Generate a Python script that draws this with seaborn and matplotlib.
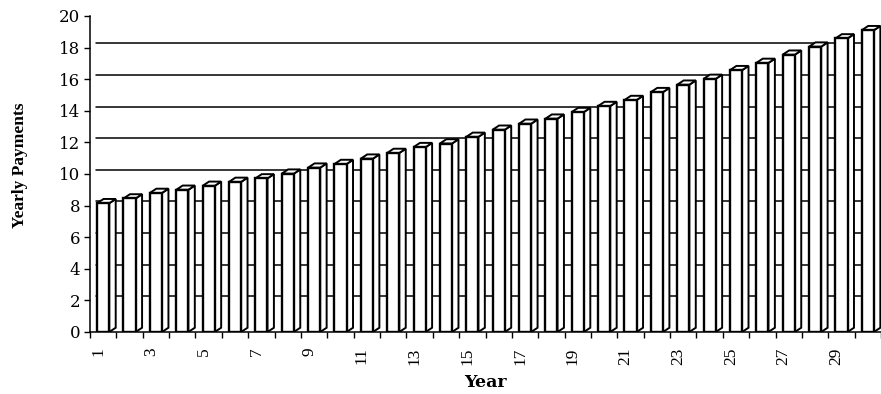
import numpy as np
import pandas as pd
import matplotlib
matplotlib.use("Agg")
import matplotlib.pyplot as plt
import matplotlib.transforms as mtransforms
from matplotlib.patches import Polygon
import seaborn as sns

# ---- data ----
years = list(range(1, 31))
payments = [8.15, 8.45, 8.80, 9.00, 9.25, 9.50, 9.72, 10.02, 10.40, 10.63,
            10.97, 11.33, 11.70, 11.93, 12.35, 12.80, 13.18, 13.50, 13.92, 14.30,
            14.68, 15.18, 15.65, 16.02, 16.57, 17.03, 17.55, 18.06, 18.58, 19.10]
y_ticks = [0, 2, 4, 6, 8, 10, 12, 14, 16, 18, 20]
x_tick_labels = [str(y) for y in years[::2]]

df = pd.DataFrame({"Year": [str(y) for y in years], "Payment": payments})

sns.set_theme(style="white")
plt.rcParams["font.family"] = ["DejaVu Serif"]
plt.rcParams["text.color"] = "black"
plt.rcParams["axes.labelcolor"] = "black"
plt.rcParams["xtick.color"] = "black"
plt.rcParams["ytick.color"] = "black"

fig = plt.figure(figsize=(8.81, 3.94), dpi=100)
ax = fig.add_axes([90 / 881, 62 / 394, 791 / 881, 316 / 394])

W = 0.46     # front face width (category units)
DX = 0.245   # depth offset, x
DY = 0.27    # depth offset, value units

# back-wall gridlines
for g in y_ticks[1:-1]:
    ax.plot([-0.5 + DX, 30.5], [g + DY, g + DY], color="black", lw=1.1, zorder=0.5)

# front faces via seaborn
sns.barplot(data=df, x="Year", y="Payment", color="white", saturation=1,
            edgecolor="black", linewidth=1.7, width=W, ax=ax, zorder=3)

# side and top faces (3D depth) computed from the data
for i, v in enumerate(payments):
    xr = i + W / 2
    xl = i - W / 2
    side = Polygon([(xr, 0), (xr + DX, DY), (xr + DX, v + DY), (xr, v)],
                   closed=True, facecolor="white", edgecolor="black", lw=1.4, zorder=2)
    top = Polygon([(xl, v), (xl + DX, v + DY), (xr + DX, v + DY), (xr, v)],
                  closed=True, facecolor="white", edgecolor="black", lw=1.4, zorder=2)
    ax.add_patch(side)
    ax.add_patch(top)

ax.set_xlim(-0.5, -0.5 + 791 / 26.41)
ax.set_ylim(0, 20)

# axes styling
for s in ["top", "right"]:
    ax.spines[s].set_visible(False)
for s in ["left", "bottom"]:
    ax.spines[s].set_color("black")
    ax.spines[s].set_linewidth(1.1)

ax.set_yticks(y_ticks)
ax.set_yticklabels([str(t) for t in y_ticks], fontfamily="DejaVu Serif", fontsize=12,
                   color="black")
ax.tick_params(axis="y", direction="out", length=4, width=1, color="black", pad=3, left=True)

ax.set_xticks(list(range(0, 30, 2)))
ax.set_xticklabels(x_tick_labels, rotation=90, fontfamily="Liberation Serif", fontsize=12.5,
                   color="black")
ax.set_xticks([i - 0.5 for i in range(0, 31)], minor=True)
ax.tick_params(axis="x", which="major", length=0, pad=11, bottom=True)
ax.tick_params(axis="x", which="minor", direction="out", length=4, width=1,
               color="black", bottom=True)
offset = mtransforms.ScaledTranslation(-5 / 100, 0, fig.dpi_scale_trans)
for lab in ax.get_xticklabels():
    lab.set_transform(lab.get_transform() + offset)

ax.set_xlabel("Year", fontfamily="DejaVu Serif", fontweight="bold", fontsize=12.5,
              va="center", color="black")
ax.xaxis.set_label_coords(0.5, (332 - 382.5) / 316)
ax.set_ylabel("Yearly Payments", fontfamily="Liberation Serif", fontweight="bold",
              fontsize=12.5, va="center", color="black")
ax.yaxis.set_label_coords((20 - 90) / 791, (332 - 165) / 316)
ax.grid(False)

fig.savefig("out.png", dpi=100, facecolor="white")
